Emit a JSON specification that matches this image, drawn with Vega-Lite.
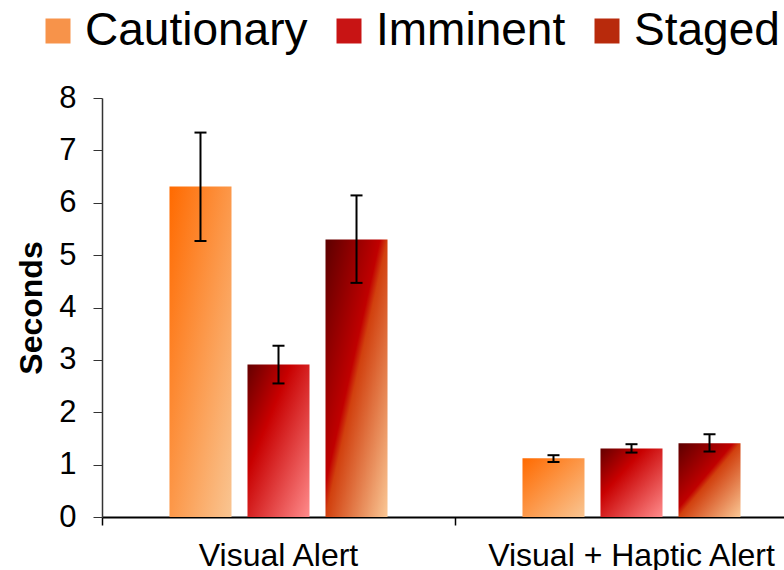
{
  "$schema": "https://vega.github.io/schema/vega-lite/v6.json",
  "autosize": {"type": "none"},
  "padding": {"left": 102, "top": 98, "right": 0, "bottom": 53},
  "width": 706,
  "height": 419,
  "background": "white",
  "config": {
    "view": {"stroke": null},
    "font": "Liberation Sans",
    "axis": {"grid": false},
    "axisY": {
      "titleFontSize": 32,
      "titleFontWeight": "bold",
      "titleColor": "black",
      "titlePadding": 10,
      "labelFontSize": 31,
      "labelColor": "black",
      "tickSize": 9,
      "tickColor": "#333333",
      "domainColor": "#333333",
      "domainWidth": 1.5,
      "labelPadding": 17
    }
  },
  "data": {
    "values": [
      {"group": "Visual Alert", "alert": "Cautionary", "value": 6.31, "lo": 5.27, "hi": 7.34},
      {"group": "Visual Alert", "alert": "Imminent", "value": 2.91, "lo": 2.55, "hi": 3.27},
      {"group": "Visual Alert", "alert": "Staged", "value": 5.30, "lo": 4.47, "hi": 6.14},
      {"group": "Visual + Haptic Alert", "alert": "Cautionary", "value": 1.12, "lo": 1.05, "hi": 1.18},
      {"group": "Visual + Haptic Alert", "alert": "Imminent", "value": 1.31, "lo": 1.23, "hi": 1.39},
      {"group": "Visual + Haptic Alert", "alert": "Staged", "value": 1.41, "lo": 1.25, "hi": 1.58}
    ]
  },
  "encoding": {
    "x": {
      "field": "group",
      "type": "nominal",
      "sort": ["Visual Alert", "Visual + Haptic Alert"],
      "scale": {"paddingInner": 0, "paddingOuter": 0},
      "axis": {
        "title": null,
        "labelAngle": 0,
        "labelFontSize": 32,
        "labelColor": "black",
        "labelLimit": 500,
        "bandPosition": 0,
        "tickSize": 8,
        "tickWidth": 1.5,
        "tickColor": "black",
        "domainColor": "black",
        "domainWidth": 2,
        "labelPadding": 15
      }
    },
    "xOffset": {
      "field": "alert",
      "type": "nominal",
      "sort": ["Cautionary", "Imminent", "Staged"],
      "scale": {"paddingInner": 0.205, "paddingOuter": 0.865}
    }
  },
  "layer": [
    {
      "mark": {"type": "bar"},
      "encoding": {
        "y": {
          "field": "value",
          "type": "quantitative",
          "title": "Seconds",
          "scale": {"domain": [0, 8]},
          "axis": {"values": [0, 1, 2, 3, 4, 5, 6, 7, 8]}
        },
        "color": {
          "condition": [
            {"test": "datum.alert === 'Cautionary'",
             "value": {"gradient": "linear", "x1": 0, "y1": 0, "x2": 1, "y2": 1,
               "stops": [{"offset": 0, "color": "#FF6A00"}, {"offset": 1, "color": "#F9C592"}]}},
            {"test": "datum.alert === 'Imminent'",
             "value": {"gradient": "linear", "x1": 0, "y1": 0, "x2": 1, "y2": 1,
               "stops": [{"offset": 0, "color": "#640000"}, {"offset": 0.35, "color": "#C80000"}, {"offset": 1, "color": "#FF8C8C"}]}}
          ],
          "value": {"gradient": "linear", "x1": 0, "y1": 0, "x2": 1, "y2": 1,
            "stops": [{"offset": 0, "color": "#5C0000"}, {"offset": 0.44, "color": "#C00000"}, {"offset": 0.5, "color": "#D1400E"}, {"offset": 1, "color": "#FAC896"}]}
        }
      }
    },
    {
      "mark": {"type": "rule", "color": "black", "strokeWidth": 2},
      "encoding": {
        "y": {"field": "lo", "type": "quantitative", "title": "Seconds"},
        "y2": {"field": "hi"}
      }
    },
    {
      "mark": {"type": "tick", "color": "black", "thickness": 2, "size": 12, "opacity": 1},
      "encoding": {
        "y": {"field": "lo", "type": "quantitative", "title": "Seconds"}
      }
    },
    {
      "mark": {"type": "tick", "color": "black", "thickness": 2, "size": 12, "opacity": 1},
      "encoding": {
        "y": {"field": "hi", "type": "quantitative", "title": "Seconds"}
      }
    },
    {
      "mark": {"type": "bar", "opacity": 0},
      "encoding": {
        "y": {"field": "value", "type": "quantitative", "title": "Seconds"},
        "color": {
          "field": "alert",
          "type": "nominal",
          "sort": ["Cautionary", "Imminent", "Staged"],
          "scale": {
            "domain": ["Cautionary", "Imminent", "Staged"],
            "range": ["#F7934A", "#C81414", "#B82A0C"]
          },
          "legend": {
            "title": null,
            "orient": "none",
            "direction": "horizontal",
            "legendX": -67,
            "legendY": -90,
            "padding": 0,
            "labelFontSize": 46,
            "labelColor": "black",
            "labelFont": "Liberation Sans",
            "labelLimit": 500,
            "symbolType": "square",
            "symbolSize": 625,
            "symbolStrokeWidth": 0,
            "symbolOpacity": 1,
            "labelOffset": 4,
            "columnPadding": 18
          }
        }
      }
    }
  ]
}
